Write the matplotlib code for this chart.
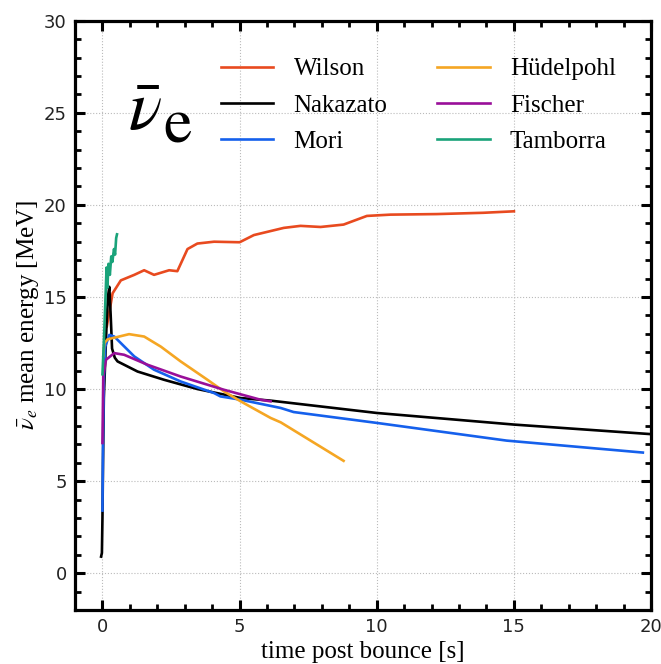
import matplotlib
matplotlib.use('Agg')
import matplotlib.pyplot as plt
from matplotlib.ticker import MultipleLocator

# mean energy of anti-electron neutrinos vs time post bounce
wilson_t = [0.16, 0.37, 0.67, 1.16, 1.52, 1.88, 2.43, 2.73, 3.1, 3.46, 4.07, 5.0,
            5.52, 6.61, 7.22, 7.95, 8.79, 9.64, 10.5, 12.19, 13.88, 15.0]
wilson_e = [13.4, 15.2, 15.9, 16.2, 16.45, 16.2, 16.45, 16.4, 17.6, 17.9, 18.0, 17.97,
            18.36, 18.75, 18.86, 18.8, 18.93, 19.4, 19.47, 19.5, 19.57, 19.65]

nakazato_t = [-0.05, -0.02, 0.0, 0.02, 0.05, 0.1, 0.15, 0.2, 0.25, 0.3, 0.35, 0.45,
              0.55, 1.28, 2.25, 3.46, 5.04, 6.13, 10.0, 15.0, 20.0]
nakazato_e = [0.9, 1.1, 3.0, 6.0, 9.5, 11.5, 13.5, 15.0, 15.55, 14.0, 12.2, 11.7,
              11.5, 10.95, 10.5, 10.0, 9.51, 9.37, 8.7, 8.07, 7.55]

mori_t = [0.0, 0.02, 0.05, 0.1, 0.25, 0.43, 1.16, 1.88, 2.85, 4.07, 4.3, 5.04,
          6.5, 6.97, 10.0, 14.73, 19.7]
mori_e = [3.4, 7.0, 10.5, 12.3, 12.94, 12.85, 11.77, 11.05, 10.41, 9.78, 9.6, 9.42,
          8.97, 8.75, 8.16, 7.2, 6.55]

huedelpohl_t = [0.03, 0.07, 0.19, 0.97, 1.52, 2.13, 2.85, 3.83, 4.43, 5.04, 6.13, 6.5, 8.79]
huedelpohl_e = [11.8, 12.5, 12.7, 12.98, 12.85, 12.3, 11.5, 10.5, 9.87, 9.33, 8.43, 8.19, 6.1]

fischer_t = [0.0, 0.03, 0.13, 0.43, 0.79, 1.64, 2.85, 4.43, 5.76, 6.13]
fischer_e = [7.07, 10.7, 11.59, 11.95, 11.86, 11.32, 10.68, 9.96, 9.42, 9.33]

tamborra_t = [0.0, 0.05, 0.1, 0.15, 0.18, 0.22, 0.27, 0.32, 0.36, 0.42, 0.46, 0.5, 0.53]
tamborra_e = [10.8, 12.5, 14.5, 16.6, 15.5, 16.8, 16.2, 17.2, 16.9, 17.6, 17.3, 18.2, 18.4]

plt.rcParams['mathtext.fontset'] = 'stix'
serif = 'Liberation Serif'

fig = plt.figure(figsize=(6.61, 6.64), dpi=100)
ax = fig.add_axes([0.1135, 0.0813, 0.8715, 0.8875])

lw = 1.9
ax.plot(wilson_t, wilson_e, color='#e84a1f', lw=lw, label='Wilson')
ax.plot(nakazato_t, nakazato_e, color='black', lw=lw, label='Nakazato')
ax.plot(mori_t, mori_e, color='#1560ec', lw=lw, label='Mori')
ax.plot(huedelpohl_t, huedelpohl_e, color='#f5a623', lw=lw, label='Hüdelpohl')
ax.plot(fischer_t, fischer_e, color='#990f99', lw=lw, label='Fischer')
ax.plot(tamborra_t, tamborra_e, color='#1aa37a', lw=lw, label='Tamborra')

ax.set_xlim(-1, 20)
ax.set_ylim(-2, 30)
ax.xaxis.set_major_locator(MultipleLocator(5))
ax.xaxis.set_minor_locator(MultipleLocator(1))
ax.yaxis.set_major_locator(MultipleLocator(5))
ax.yaxis.set_minor_locator(MultipleLocator(1))
ax.tick_params(which='both', direction='in', top=True, right=True, labelsize=13,
               labelcolor='#222222')
ax.tick_params(which='major', length=7, width=2.2, pad=6)
ax.tick_params(which='minor', length=4, width=2.0)
for s in ax.spines.values():
    s.set_linewidth(2.3)
ax.grid(True, which='major', ls=':', color='#bbbbbb', lw=0.8)

ax.set_xlabel('time post bounce [s]', fontsize=18, family=serif, labelpad=3)
ax.set_ylabel(r'$\bar{\nu}_e$ mean energy [MeV]', fontsize=18, family=serif, labelpad=2)

# big species tag in the upper left
ax.text(0.092, 0.8145, r'$\bar{\nu}$', transform=ax.transAxes,
        fontsize=50, va='baseline', ha='left')
ax.text(0.153, 0.7925, 'e', transform=ax.transAxes, family='STIXGeneral',
        fontsize=46, va='baseline', ha='left')

ax.legend(loc='upper left', ncol=2, frameon=False, prop={'family': serif, 'size': 18},
          handlelength=2.1, columnspacing=2.0, labelspacing=0.55, borderaxespad=0,
          bbox_to_anchor=(0.236, 0.954))

plt.savefig('out.png')
